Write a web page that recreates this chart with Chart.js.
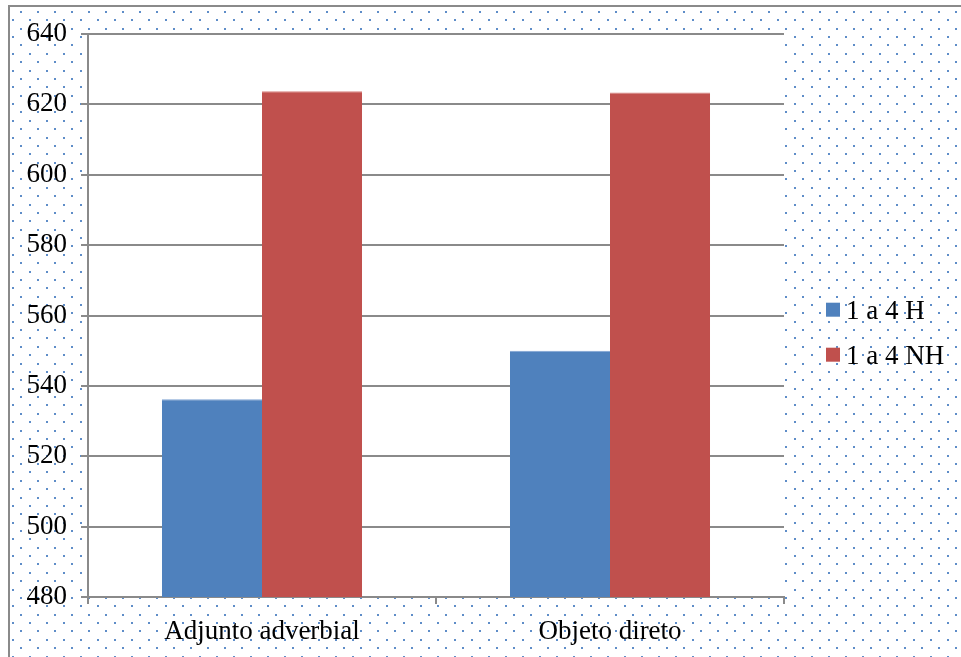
<!DOCTYPE html>
<html>
<head>
<meta charset="utf-8">
<script src="https://cdn.jsdelivr.net/npm/chart.js@4/dist/chart.umd.min.js"></script>
<style>
  html, body { margin: 0; padding: 0; background: #fff; }
  #wrap { position: relative; width: 961px; height: 657px; }
  canvas { display: block; }
</style>
</head>
<body>
<div id="wrap"><canvas id="c" width="961" height="657"></canvas></div>
<script>
const categories = ['Adjunto adverbial', 'Objeto direto'];
const seriesNames = ['1 a 4 H', '1 a 4 NH'];
const valuesH = [536.2, 550.0];
const valuesNH = [623.7, 623.4];
const yMin = 480;
const yMax = 640;
const yStep = 20;

const FONT = '"Liberation Serif", "Times New Roman", serif';
const FS = 27;
const GRID = '#8a8a8a';
const blue = '#4F81BD';
const red = '#C0504D';

const backgroundPlugin = {
  id: 'bgPattern',
  beforeDraw(chart) {
    const ctx = chart.ctx;
    const W = chart.width, H = chart.height;
    ctx.save();
    ctx.fillStyle = '#ffffff';
    ctx.fillRect(0, 0, W, H);
    // dotted pattern
    ctx.fillStyle = '#5f8dc8';
    const rowStep = 8.371;
    for (let n = 0; ; n++) {
      const y = 12 + n * rowStep;
      if (y > H) break;
      const x0 = (n % 2 === 0) ? 4 : 12.5;
      for (let x = x0; x < W; x += 17) {
        if (x < 10) continue;
        ctx.fillRect(Math.round(x) - 1, Math.round(y) - 1, 2, 2);
      }
    }
    // outer border
    ctx.strokeStyle = '#8a8a8a';
    ctx.lineWidth = 2;
    ctx.beginPath();
    ctx.moveTo(9, H + 2);
    ctx.lineTo(9, 6);
    ctx.lineTo(W + 2, 6);
    ctx.stroke();
    // plot area
    const a = chart.chartArea;
    ctx.fillStyle = '#ffffff';
    ctx.fillRect(a.left, a.top, a.right - a.left, a.bottom - a.top);
    ctx.restore();
  }
};

const legendPlugin = {
  id: 'customLegend',
  afterDraw(chart) {
    const ctx = chart.ctx;
    ctx.save();
    ctx.font = FS + 'px ' + FONT;
    ctx.textAlign = 'left';
    ctx.textBaseline = 'alphabetic';
    const centers = [309.7, 354.7];
    chart.data.datasets.forEach((ds, i) => {
      const cy = centers[i];
      ctx.fillStyle = ds.backgroundColor;
      ctx.fillRect(826, cy - 7, 14, 14);
      ctx.fillStyle = '#000';
      ctx.fillText(ds.label, 846, cy + 9.5);
    });
    ctx.restore();
  }
};

new Chart(document.getElementById('c'), {
  type: 'bar',
  data: {
    labels: categories,
    datasets: [
      { label: seriesNames[0], data: valuesH, backgroundColor: blue,
        borderColor: '#7ea3d3', borderWidth: { top: 1, left: 0, right: 0, bottom: 0 }, borderSkipped: false },
      { label: seriesNames[1], data: valuesNH, backgroundColor: red,
        borderColor: '#d7817e', borderWidth: { top: 1, left: 0, right: 0, bottom: 0 }, borderSkipped: false }
    ]
  },
  options: {
    responsive: false,
    animation: false,
    devicePixelRatio: 1,
    layout: { padding: { top: 34, right: 177, left: 0, bottom: 0 } },
    plugins: {
      legend: { display: false },
      tooltip: { enabled: false },
      title: { display: false }
    },
    datasets: { bar: { categoryPercentage: 0.575, barPercentage: 1.0 } },
    scales: {
      x: {
        offset: true,
        grid: { offset: true, drawOnChartArea: false, drawTicks: true, tickLength: 7, color: GRID, lineWidth: 2 },
        border: { display: true, color: GRID, width: 2 },
        ticks: { color: '#000', font: { family: FONT, size: FS }, padding: 12, maxRotation: 0 },
        afterFit(scale) { scale.height = 60; }
      },
      y: {
        min: yMin, max: yMax,
        grid: { drawOnChartArea: true, drawTicks: true, tickLength: 7, color: GRID, lineWidth: 2 },
        border: { display: true, color: GRID, width: 2 },
        ticks: { stepSize: yStep, color: '#000', font: { family: FONT, size: FS }, padding: 14 },
        afterFit(scale) { scale.width = 88; }
      }
    }
  },
  plugins: [backgroundPlugin, legendPlugin]
});
</script>
</body>
</html>
